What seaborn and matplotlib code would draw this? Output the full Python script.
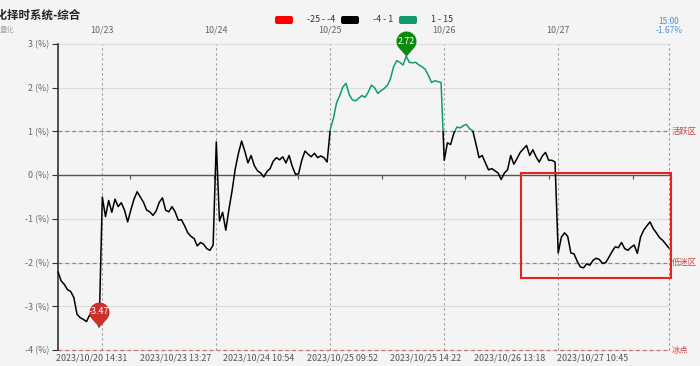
import numpy as np
import pandas as pd
import matplotlib
matplotlib.use("Agg")
import matplotlib.pyplot as plt
import seaborn as sns
from matplotlib.path import Path
from matplotlib.markers import MarkerStyle
from matplotlib.patches import Rectangle, FancyBboxPatch
from matplotlib.transforms import blended_transform_factory

# ---------------- data ----------------
vals_1020 = [-2.21, -2.42, -2.50, -2.62, -2.66, -2.80, -3.18, -3.26, -3.30, -3.35,
             -3.20, -3.25, -3.30, -3.47]
vals_1023 = [-0.50, -0.95, -0.58, -0.85, -0.55, -0.72, -0.63, -0.80, -1.07, -0.80,
             -0.55, -0.38, -0.50, -0.62, -0.80, -0.84, -0.92, -0.82, -0.62, -0.52,
             -0.80, -0.84, -0.72, -0.84, -1.03, -1.02, -1.16, -1.32, -1.40, -1.45,
             -1.62, -1.54, -1.58, -1.68, -1.72, -1.60]
vals_1024 = [0.76, -1.05, -0.85, -1.26, -0.78, -0.35, 0.15, 0.50, 0.78, 0.55,
             0.28, 0.45, 0.22, 0.10, 0.05, -0.04, 0.08, 0.15, 0.32, 0.40,
             0.35, 0.42, 0.28, 0.45, 0.20, 0.02, 0.03, 0.34, 0.55, 0.48,
             0.42, 0.50, 0.40, 0.44, 0.40, 0.30]
vals_1025 = [1.05, 1.30, 1.66, 1.82, 2.02, 2.10, 1.84, 1.72, 1.70, 1.76,
             1.82, 1.78, 1.90, 2.06, 2.00, 1.87, 1.93, 1.98, 2.05, 2.20,
             2.48, 2.62, 2.58, 2.52, 2.72, 2.58, 2.57, 2.58, 2.52, 2.48,
             2.42, 2.28, 2.12, 2.16, 2.14, 2.12]
vals_1026 = [0.34, 0.74, 0.70, 0.95, 1.10, 1.08, 1.13, 1.16, 1.06, 1.02,
             0.72, 0.40, 0.45, 0.28, 0.12, 0.15, 0.10, 0.05, -0.10, 0.05,
             0.12, 0.45, 0.25, 0.38, 0.52, 0.60, 0.68, 0.45, 0.58, 0.42,
             0.30, 0.44, 0.52, 0.34, 0.34, 0.30]
vals_1027 = [-1.78, -1.42, -1.32, -1.40, -1.78, -1.80, -1.97, -2.10, -2.12, -2.03,
             -2.06, -1.95, -1.90, -1.93, -2.02, -2.00, -1.88, -1.75, -1.64, -1.66,
             -1.54, -1.68, -1.72, -1.65, -1.60, -1.79, -1.42, -1.26, -1.16, -1.07,
             -1.22, -1.32, -1.43, -1.49, -1.58, -1.67]

day_labels = ["10/23", "10/24", "10/25", "10/26", "10/27"]
bottom_labels = ["2023/10/20 14:31", "2023/10/23 13:27", "2023/10/24 10:54",
                 "2023/10/25 09:52", "2023/10/25 14:22", "2023/10/26 13:18",
                 "2023/10/27 10:45"]
y_ticks = [3, 2, 1, 0, -1, -2, -3, -4]
zone_levels = [1, -2, -4]
zone_names = ["活跃区", "低迷区", "冰点"]
legend_ranges = ["-25 - -4", "-4 - 1", "1 - 15"]
legend_colors = ["#ff0000", "#000000", "#119a6c"]
end_time = "15:00"
title = "量化择时系统-综合"
subtitle = "量化"

# ---------------- build ----------------
days = [vals_1020, vals_1023, vals_1024, vals_1025, vals_1026, vals_1027]
vals = np.concatenate([np.array(d, float) for d in days])
idx = np.arange(len(vals))
day_starts = np.cumsum([len(d) for d in days])[:-1]
last = len(vals) - 1
df = pd.DataFrame({"idx": idx, "val": vals})

sns.set_theme(style="white")
plt.rcParams["font.family"] = ["Noto Sans CJK SC", "DejaVu Sans"]
plt.rcParams["axes.unicode_minus"] = False

W, H = 700, 366
BG = "#f4f4f4"
fig = plt.figure(figsize=(W / 100, H / 100), dpi=100, facecolor=BG)
ax = fig.add_axes([58 / W, 16 / H, 611 / W, 306 / H])
ax.set_facecolor(BG)

px = (last) / 611.0  # data units per pixel along x

ax.set_xlim(0, last)
ax.set_ylim(-4, 3)

# gridlines
for t in y_ticks:
    ax.axhline(t, color="#dcdcdc", lw=0.8, zorder=0, clip_on=False)

# day separators
for d in day_starts:
    ax.axvline(d, color="#9a9a9a", lw=0.8, ls=(0, (2, 2.5)), zorder=1)
ax.axvline(last, color="#5b9bd5", lw=0.8, ls=(0, (2, 2.5)), zorder=1, clip_on=False)

# zone lines
for lv, nm in zip(zone_levels, zone_names):
    ax.axhline(lv, color="#c87070", lw=0.9, ls=(0, (3, 2.5)), zorder=1, clip_on=False)
    ax.text(1 + 3 / 611, lv, nm, transform=blended_transform_factory(ax.transAxes, ax.transData),
            ha="left", va="center", fontsize=6.0, color="#c94040")

# the line, coloured by visual-map pieces
green = legend_colors[2]
sns.lineplot(data=df, x="idx", y="val", color="black", lw=1.1, ax=ax, zorder=3)
ln_black = ax.lines[-1]
sns.lineplot(data=df, x="idx", y="val", color=green, lw=1.1, ax=ax, zorder=3)
ln_green = ax.lines[-1]
ln_black.set_clip_path(Rectangle((-10, -4.5), last + 20, 5.5, transform=ax.transData))
ln_green.set_clip_path(Rectangle((-10, 1.0), last + 20, 10, transform=ax.transData))

# spines / ticks
for s in ["top", "right"]:
    ax.spines[s].set_visible(False)
ax.spines["left"].set_color("#333333")
ax.spines["left"].set_linewidth(1.2)
ax.spines["bottom"].set_position(("data", 0))
ax.spines["bottom"].set_color("#555555")
ax.spines["bottom"].set_linewidth(1.0)
ax.set_yticks(y_ticks)
ax.set_yticklabels([f"{t} (%)" for t in y_ticks])
ax.tick_params(axis="y", length=4, width=0.8, color="#333333", labelcolor="#666666",
               labelsize=6.4, pad=2, left=True)
axis_ticks = 22.7 + 26.5 * np.arange(7)
ax.set_xticks(axis_ticks)
ax.set_xticklabels([])
ax.tick_params(axis="x", length=3, width=0.8, color="#555555", bottom=True, direction="out")
ax.set_xlabel("")
ax.set_ylabel("")

# bottom labels
bl_pos = -0.6 + 26.37 * np.arange(len(bottom_labels))
tb = blended_transform_factory(ax.transData, ax.transAxes)
for p, lab in zip(bl_pos, bottom_labels):
    ax.text(p, -8 / 306, lab, transform=tb, ha="left", va="center", fontsize=6.4,
            color="#555555", clip_on=False)

# top day labels
for d, lab in zip(day_starts, day_labels):
    ax.text(d, 1 + 14 / 306, lab, transform=tb, ha="center", va="center", fontsize=6.4,
            color="#666666")
ax.text(last, 1 + 22 / 306, end_time, transform=tb, ha="center", va="center",
        fontsize=6.0, color="#4a90d9")
ax.text(last, 1 + 13 / 306, f"{vals[-1]:.2f}%", transform=tb, ha="center", va="center",
        fontsize=6.0, color="#4a90d9")

# pins for min / max
beta = np.degrees(np.arccos(1 / 1.5))
angs = np.radians(np.linspace(-90 + beta, 270 - beta, 60))
verts = [(0, 0)] + [(np.cos(a), 1.5 + np.sin(a)) for a in angs] + [(0, 0)]
codes = [Path.MOVETO] + [Path.LINETO] * (len(verts) - 2) + [Path.CLOSEPOLY]
pin = MarkerStyle(Path(verts, codes))
imin, imax = int(np.argmin(vals)), int(np.argmax(vals))
for i, col in [(imin, "#c8312c"), (imax, "#0b8a0b")]:
    ax.scatter([idx[i]], [vals[i]], marker=pin, s=36 ** 2, color=col, linewidths=0,
               zorder=6, clip_on=False)
    ax.annotate(f"{vals[i]:.2f}", (idx[i], vals[i]), xytext=(0, 10.8),
                textcoords="offset points", ha="center", va="center", fontsize=6.4,
                color="white", zorder=7)

# red highlight box
x0 = (521 - 58) * px
x1 = (671 - 58) * px
ax.add_patch(Rectangle((x0, -2.357), x1 - x0, 2.403, fill=False, edgecolor="#e8231b",
                       lw=1.5, zorder=8, clip_on=False))

# title (left edge cropped, as in the reference)
fig.text(-15 / W, 1 - 15 / H, title, ha="left", va="center", fontsize=8.3,
         fontweight="bold", color="#222222")
fig.text(0, 1 - 30 / H, subtitle, ha="left", va="center", fontsize=5.4, color="#aaaaaa")

# legend
lx = [275, 341, 399]
tx = [307, 373, 431]
for x, t, lab, c in zip(lx, tx, legend_ranges, legend_colors):
    fig.patches.append(FancyBboxPatch((x / 100, (H - 24) / 100), 0.18, 0.08,
                                      boxstyle="round,pad=0,rounding_size=0.02",
                                      transform=fig.dpi_scale_trans, facecolor=c,
                                      edgecolor="none", figure=fig))
    fig.text(t / W, 1 - 20 / H, lab, ha="left", va="center", fontsize=6.4, color="#333333")

fig.savefig("out.png", dpi=100, facecolor=BG)
